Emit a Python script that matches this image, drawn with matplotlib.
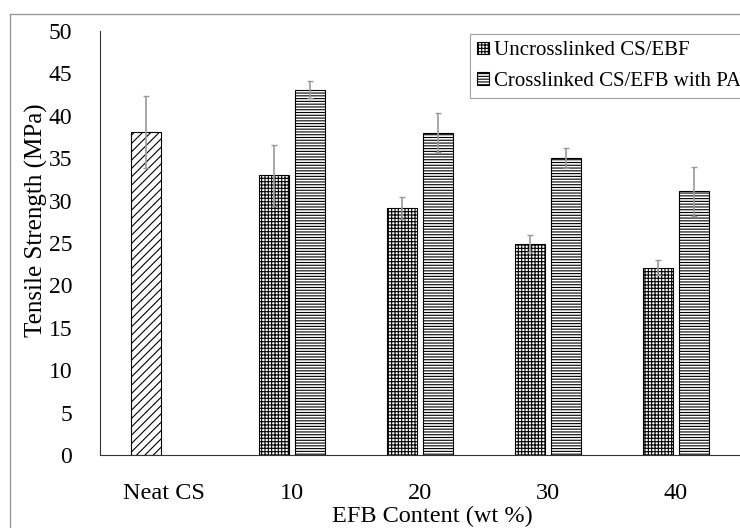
import numpy as np
import matplotlib
matplotlib.use("Agg")
import matplotlib.pyplot as plt
from matplotlib.lines import Line2D

plt.rcParams['font.family'] = ['Liberation Serif', 'DejaVu Serif']
plt.rcParams['hatch.linewidth'] = 0.8

# data
categories = ['Neat CS', '10', '20', '30', '40']
uncross = [38.1, 33.0, 29.1, 24.9, 22.1]
uncross_err = [4.2, 3.6, 1.3, 1.0, 0.9]
cross = [np.nan, 43.1, 38.0, 35.0, 31.1]
cross_err = [np.nan, 1.0, 2.3, 1.2, 2.9]
legend_labels = ['Uncrosslinked CS/EBF', 'Crosslinked CS/EFB with PA']

fig = plt.figure(figsize=(7.4, 5.28), dpi=100)
ax = fig.add_axes([100/740, 1 - 455/528, 640/740, (455 - 31)/528])

x = np.arange(len(categories))
w = 0.23
off = 0.14
errkw = dict(ecolor='#9a9a9a', elinewidth=1.2, capsize=2, capthick=1)

# neat CS gets its own diagonal hatch
b0 = ax.bar(x[:1] - off, uncross[:1], w, yerr=uncross_err[:1], color='white',
            edgecolor='black', hatch='////', linewidth=0.8, error_kw=errkw)
b1 = ax.bar(x[1:] - off, uncross[1:], w, yerr=uncross_err[1:], color='white',
            edgecolor='black', hatch='+++++', linewidth=0.8, error_kw=errkw)
b2 = ax.bar(x[1:] + off, cross[1:], w, yerr=cross_err[1:], color='white',
            edgecolor='black', hatch='------', linewidth=0.8, error_kw=errkw)

ax.set_xlim(-0.5, 4.5)
ax.set_ylim(0, 50)
ax.set_yticks(np.arange(0, 51, 5))
ax.set_xticks(x)
ax.set_xticklabels(categories, fontsize=17.5)
ax.tick_params(axis='y', length=0, pad=20, labelsize=17)
ax.tick_params(axis='x', length=0, pad=20)
for s in ['top', 'right']:
    ax.spines[s].set_visible(False)
for s in ['left', 'bottom']:
    ax.spines[s].set_linewidth(0.8)
    ax.spines[s].set_color('#333333')

fig.text(36/740, 1 - 220/528, 'Tensile Strength (MPa)', rotation=90,
         ha='center', va='center', fontsize=18)
fig.text(432/740, 1 - 516/528, 'EFB Content (wt %)', ha='center',
         va='center', fontsize=17.5)

leg = fig.legend([b1, b2], legend_labels, loc='upper left',
                 bbox_to_anchor=(470/740, 1 - 34/528), fontsize=15,
                 frameon=True, fancybox=False, edgecolor='#888888',
                 handlelength=0.55, handleheight=0.55, handletextpad=0.25,
                 labelspacing=0.55, borderpad=0.35, borderaxespad=0)
leg.get_frame().set_linewidth(0.8)

# outer chart border
fig.add_artist(Line2D([10/740, 1], [1 - 14/528] * 2, color='#999999', lw=1))
fig.add_artist(Line2D([10/740] * 2, [0, 1 - 14/528], color='#999999', lw=1))

fig.savefig('out.png', dpi=100)
